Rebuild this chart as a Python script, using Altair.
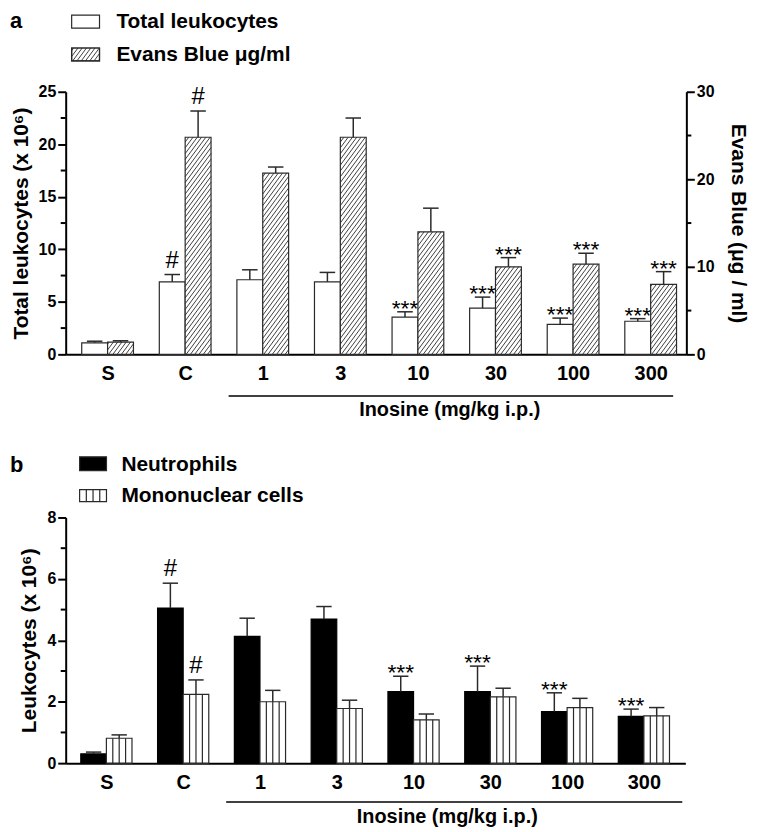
import math
import altair as alt
import pandas as pd

# ---------------- data ----------------
groups = ["S", "C", "1", "3", "10", "30", "100", "300"]

leuk = [1.1, 6.9, 7.1, 6.9, 3.55, 4.4, 2.85, 3.15]
leuk_err = [0.15, 0.7, 0.95, 0.9, 0.5, 1.05, 0.6, 0.25]
leuk_sig = ["", "#", "", "", "***", "***", "***", "***"]

evans = [1.4, 24.8, 20.7, 24.8, 14.0, 10.0, 10.3, 8.0]
evans_err = [0.15, 3.0, 0.7, 2.2, 2.7, 1.05, 1.25, 1.45]
evans_sig = ["", "#", "", "", "", "***", "***", "***"]

neut = [0.30, 5.05, 4.13, 4.69, 2.33, 2.33, 1.68, 1.52]
neut_err = [0.06, 0.81, 0.59, 0.41, 0.5, 0.83, 0.61, 0.24]
neut_sig = ["", "#", "", "", "***", "***", "***", "***"]

mono = [0.81, 2.24, 2.0, 1.78, 1.41, 2.16, 1.81, 1.54]
mono_err = [0.11, 0.47, 0.37, 0.27, 0.19, 0.28, 0.30, 0.27]
mono_sig = ["", "#", "", "", "", "", "", ""]

left_ticks_a = [0, 5, 10, 15, 20, 25]
minor_ticks_a = [2.5, 7.5, 12.5, 17.5, 22.5]
right_ticks_a = [0, 10, 20, 30]
minor_right_a = [5, 15, 25]
ticks_b = [0, 2, 4, 6, 8]
minor_b = [1, 3, 5, 7]

xlabel = "Inosine (mg/kg i.p.)"

# ---------------- style / layout ----------------
FONT = "Liberation Sans"
INK = "#2a2a2a"
WA, HA = 624, 264
WB, HB = 623, 247
XA = [-0.54, 7.46]
XB = [-0.53, 7.54]
BW = 1 / 3
CAP = 0.1
label_expr = "[" + ",".join("'%s'" % g for g in groups) + "][datum.value]"


def x_axis():
    return alt.Axis(values=list(range(len(groups))), labelExpr=label_expr, title=None, grid=False,
                    ticks=False, tickSize=0, domainColor="black", domainWidth=2,
                    labelFont=FONT, labelFontSize=20, labelFontWeight="bold", labelColor="black",
                    labelPadding=9, labelFlush=False, labelOverlap=False, labelBound=False)


def y_axis(values, title, orient):
    return alt.Axis(values=values, title=title, orient=orient, grid=False,
                    domainColor="black", domainWidth=2, tickColor="black", tickWidth=2, tickSize=8,
                    labelFont=FONT, labelFontSize=16, labelFontWeight="bold", labelColor="black",
                    labelPadding=2, labelFlush=False, labelOverlap=False,
                    titleFont=FONT, titleFontSize=21, titleFontWeight="bold", titleColor="black",
                    titlePadding=(14 if orient == "right" else 7))


def make_x(dom):
    def f(field):
        return alt.X(f"{field}:Q", scale=alt.Scale(domain=dom, nice=False, zero=False), axis=x_axis())
    return f


def make_y(dom, values, title, orient):
    def f(field):
        return alt.Y(f"{field}:Q", scale=alt.Scale(domain=dom, nice=False, zero=False),
                     axis=y_axis(values, title, orient))
    return f


def bar_table(vals, errs, sigs, side):
    rows = []
    for i, (v, e, s) in enumerate(zip(vals, errs, sigs)):
        x0 = i - BW if side == "L" else i
        xc = x0 + BW / 2
        rows.append(dict(x0=x0, x1=x0 + BW, xc=xc, cl=xc - CAP, cr=xc + CAP,
                         v=v, top=v + e, zero=0.0, sig=s))
    return pd.DataFrame(rows)


def hatch(w, h, spacing=4.3, slope=1.35):
    out = []
    if h <= 0:
        return out
    kmin = math.floor((-h / slope) / spacing) - 1
    kmax = math.ceil(w / spacing) + 1
    for k in range(kmin, kmax + 1):
        c = k * spacing + 1.0
        ua = max(0.0, c)
        ub = min(w, c + h / slope)
        if ub - ua > 0.25:
            out.append((ua, slope * (ua - c), ub, slope * (ub - c)))
    return out


def err_layers(df, X, Y):
    return [
        alt.Chart(df).mark_rule(color=INK, strokeWidth=1.5).encode(x=X("xc"), y=Y("v"), y2="top"),
        alt.Chart(df).mark_rule(color=INK, strokeWidth=1.5).encode(x=X("cl"), x2="cr", y=Y("top")),
    ]


def sig_layers(df, X, Y):
    out = []
    hs = df[df.sig == "#"]
    st = df[df.sig == "***"]
    if len(hs):
        out.append(alt.Chart(hs).mark_text(font=FONT, fontSize=24, dy=-7, baseline="alphabetic",
                                           color="black").encode(x=X("xc"), y=Y("top"), text="sig:N"))
    if len(st):
        out.append(alt.Chart(st).mark_text(font=FONT, fontSize=23, dy=4, baseline="alphabetic",
                                           color="black").encode(x=X("xc"), y=Y("top"), text="sig:N"))
    return out


def px_rules(df, color=INK, width=0.9):
    return alt.Chart(df).mark_rule(color=color, strokeWidth=width).encode(
        x=alt.X("a:Q", scale=None), x2="b", y=alt.Y("c:Q", scale=None), y2="d")


def label_text(txt, x, y, size, weight="bold"):
    return alt.Chart(pd.DataFrame({"t": [txt]})).mark_text(
        font=FONT, fontSize=size, fontWeight=weight, align="left", baseline="alphabetic", color="black"
    ).encode(x=alt.value(x), y=alt.value(y), text="t:N")


def swatch(x0, x1, y0, y1, fill):
    return alt.Chart(pd.DataFrame({"k": [0]})).mark_rect(fill=fill, stroke=INK, strokeWidth=1.2).encode(
        x=alt.value(x0), x2=alt.value(x1), y=alt.value(y0), y2=alt.value(y1))


# ================= panel a =================
XAf = make_x(XA)
YL = make_y([0, 25], left_ticks_a, "Total leukocytes (x 10⁶)", "left")
YR = make_y([0, 30], right_ticks_a, "Evans Blue (μg / ml)", "right")
kx_a = WA / (XA[1] - XA[0])
ky_r = HA / 30.0

white_df = bar_table(leuk, leuk_err, leuk_sig, "L")
hat_df = bar_table(evans, evans_err, evans_sig, "R")

hrows = []
for i, v in enumerate(evans):
    for (u0, h0, u1, h1) in hatch(BW * kx_a, v * ky_r):
        hrows.append(dict(hx0=i + u0 / kx_a, hx1=i + u1 / kx_a, hy0=h0 / ky_r, hy1=h1 / ky_r))
hatch_df = pd.DataFrame(hrows)

# legend hatch swatch (pixel space)
LA1, LA2 = -64, -31   # legend row baselines relative to plot top
leg_rows = []
for (u0, h0, u1, h1) in hatch(28, 13):
    leg_rows.append(dict(a=6 + u0, b=6 + u1, c=LA2 - h0, d=LA2 - h1))
leg_hatch = pd.DataFrame(leg_rows)

line_a = pd.DataFrame({"u0": [1.56], "u1": [7.29]})
title_a = pd.DataFrame({"tx": [4.41], "t": [xlabel]})

left_a = alt.layer(
    alt.Chart(white_df).mark_rect(fill="white", stroke=INK, strokeWidth=1.2).encode(
        x=XAf("x0"), x2="x1", y=YL("v"), y2="zero"),
    *err_layers(white_df, XAf, YL),
    *sig_layers(white_df, XAf, YL),
    alt.Chart(pd.DataFrame({"m": minor_ticks_a})).mark_rule(color="black", strokeWidth=2).encode(
        x=alt.value(0), x2=alt.value(-5), y=YL("m")),
    alt.Chart(line_a).mark_rule(color="black", strokeWidth=1.5).encode(
        x=XAf("u0"), x2="u1", y=alt.value(HA + 42)),
    alt.Chart(title_a).mark_text(font=FONT, fontSize=20, fontWeight="bold", baseline="alphabetic",
                                 color="black").encode(x=XAf("tx"), y=alt.value(HA + 62), text="t:N"),
    label_text("a", -56, LA1, 22),
    swatch(6, 34, LA1 - 13, LA1, "white"),
    swatch(6, 34, LA2 - 13, LA2, "white"),
    px_rules(leg_hatch),
    swatch(6, 34, LA2 - 13, LA2, "transparent"),
    label_text("Total leukocytes", 51, LA1, 21),
    label_text("Evans Blue μg/ml", 51, LA2, 21),
)

right_a = alt.layer(
    alt.Chart(hat_df).mark_rect(fill="white").encode(x=XAf("x0"), x2="x1", y=YR("v"), y2="zero"),
    alt.Chart(hatch_df).mark_rule(color=INK, strokeWidth=0.9).encode(
        x=XAf("hx0"), x2="hx1", y=YR("hy0"), y2="hy1"),
    alt.Chart(hat_df).mark_rect(fill="transparent", stroke=INK, strokeWidth=1.2).encode(
        x=XAf("x0"), x2="x1", y=YR("v"), y2="zero"),
    *err_layers(hat_df, XAf, YR),
    *sig_layers(hat_df, XAf, YR),
    alt.Chart(pd.DataFrame({"m": minor_right_a})).mark_rule(color="black", strokeWidth=2).encode(
        x=alt.value(WA), x2=alt.value(WA + 5), y=YR("m")),
)

panel_a = alt.layer(left_a, right_a).resolve_scale(y="independent").properties(width=WA, height=HA)

# ================= panel b =================
XBf = make_x(XB)
YB = make_y([0, 8], ticks_b, "Leukocytes (x 10⁶)", "left")

neut_df = bar_table(neut, neut_err, neut_sig, "L")
mono_df = bar_table(mono, mono_err, mono_sig, "R")

srows = []
for i, v in enumerate(mono):
    for k in (1, 2, 3):
        xs = i + BW * k / 4
        srows.append(dict(sx=xs, s0=0.0, s1=v))
stripe_df = pd.DataFrame(srows)

leg_b = pd.DataFrame([dict(a=14 + 27 * k / 4, b=14 + 27 * k / 4, c=-28, d=-16) for k in (1, 2, 3)])

line_b = pd.DataFrame({"u0": [1.56], "u1": [7.50]})
title_b = pd.DataFrame({"tx": [4.44], "t": [xlabel]})

panel_b = alt.layer(
    alt.Chart(neut_df).mark_rect(fill="black", stroke="black", strokeWidth=1.2).encode(
        x=XBf("x0"), x2="x1", y=YB("v"), y2="zero"),
    alt.Chart(mono_df).mark_rect(fill="white", stroke=INK, strokeWidth=1.2).encode(
        x=XBf("x0"), x2="x1", y=YB("v"), y2="zero"),
    alt.Chart(stripe_df).mark_rule(color=INK, strokeWidth=1.2).encode(
        x=XBf("sx"), y=YB("s0"), y2="s1"),
    *err_layers(neut_df, XBf, YB),
    *err_layers(mono_df, XBf, YB),
    *sig_layers(neut_df, XBf, YB),
    *sig_layers(mono_df, XBf, YB),
    alt.Chart(pd.DataFrame({"m": minor_b})).mark_rule(color="black", strokeWidth=2).encode(
        x=alt.value(0), x2=alt.value(-5), y=YB("m")),
    alt.Chart(line_b).mark_rule(color="black", strokeWidth=1.5).encode(
        x=XBf("u0"), x2="u1", y=alt.value(HB + 39)),
    alt.Chart(title_b).mark_text(font=FONT, fontSize=20, fontWeight="bold", baseline="alphabetic",
                                 color="black").encode(x=XBf("tx"), y=alt.value(HB + 60), text="t:N"),
    label_text("b", -56, -46, 22),
    swatch(14, 41, -61, -47, "black"),
    swatch(14, 41, -28, -16, "white"),
    px_rules(leg_b, width=1.2),
    label_text("Neutrophils", 56, -47, 21),
    label_text("Mononuclear cells", 56, -16, 21),
).properties(width=WB, height=HB)

chart = alt.vconcat(panel_a, panel_b, spacing=34).properties(
    padding={"left": 2, "top": 0, "right": 4, "bottom": 0}, background="white"
).configure_view(stroke=None)

chart.save("out.html", embed_options={"renderer": "svg", "actions": False})
